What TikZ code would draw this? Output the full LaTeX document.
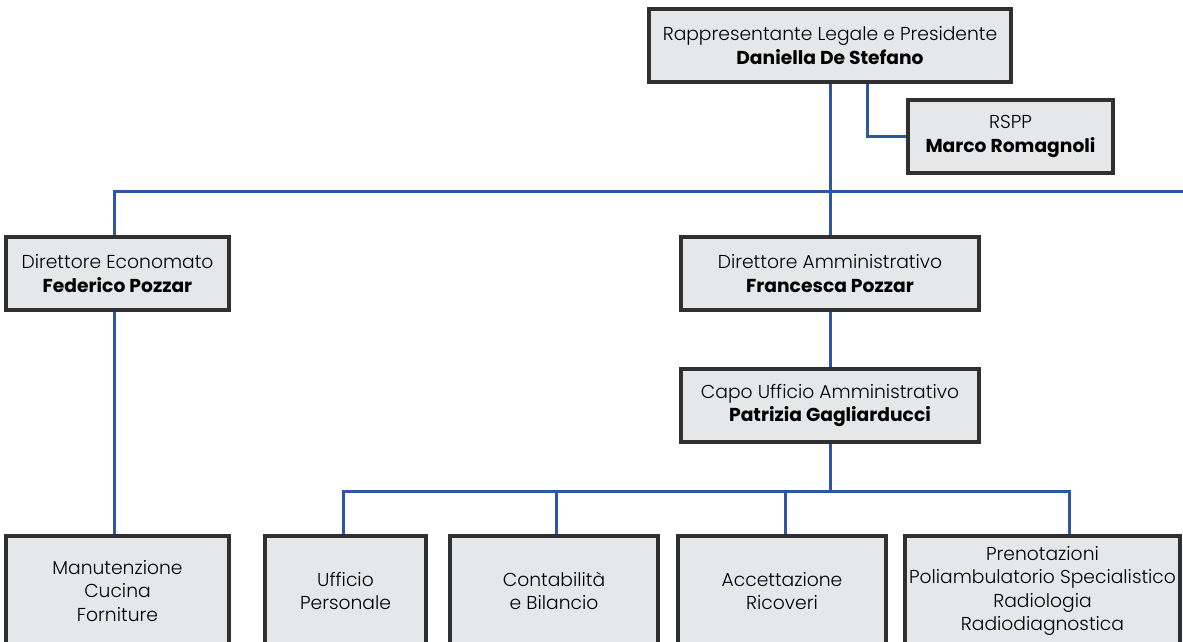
\documentclass[tikz,border=0pt]{standalone}
\usepackage{fontspec}
\setmainfont{Poppins}[UprightFont=* Light, BoldFont=* Bold]
\usetikzlibrary{backgrounds}
\definecolor{boxfill}{HTML}{E6E7E8}
\definecolor{boxline}{HTML}{303030}
\definecolor{conn}{HTML}{2F56A3}
\begin{document}
\begin{tikzpicture}[x=1pt,y=-1pt,
  orgbox/.style={draw=boxline, line width=3.3pt, fill=boxfill, align=center,
    inner sep=0pt, font=\fontsize{18.7}{23.5}\selectfont},
  link/.style={draw=conn, line width=3pt}]
\useasboundingbox (0,0) rectangle (1183,642);
\clip (0,0) rectangle (1183,642);
\node[orgbox, minimum width=362pt, minimum height=73pt] (top) at (830,45.5)
  {Rappresentante Legale e Presidente\\\textbf{Daniella De Stefano}};
\node[orgbox, minimum width=205pt, minimum height=73pt] (rspp) at (1010.5,136.5)
  {RSPP\\\textbf{Marco Romagnoli}};
\node[orgbox, minimum width=223pt, minimum height=73pt] (econ) at (117.5,273.5)
  {Direttore Economato\\\textbf{Federico Pozzar}};
\node[orgbox, minimum width=298pt, minimum height=73pt] (dam) at (830,273.5)
  {Direttore Amministrativo\\\textbf{Francesca Pozzar}};
\node[orgbox, minimum width=298pt, minimum height=73pt] (capo) at (830,405.5)
  {Capo Ufficio Amministrativo\\\textbf{Patrizia Gagliarducci}};
\node[orgbox, minimum width=223pt, minimum height=110pt] (manut) at (117.5,591)
  {Manutenzione\\Cucina\\Forniture};
\node[orgbox, minimum width=161pt, minimum height=110pt] (uff) at (345.5,591)
  {Ufficio\\Personale};
\node[orgbox, minimum width=208pt, minimum height=110pt] (cont) at (554,591)
  {Contabilità\\e Bilancio};
\node[orgbox, minimum width=208pt, minimum height=110pt] (acc) at (782,591)
  {Accettazione\\Ricoveri};
\node[orgbox, minimum width=275pt, minimum height=110pt] (pren) at (1042.5,591)
  {Prenotazioni\\Poliambulatorio Specialistico\\Radiologia\\Radiodiagnostica};
\coordinate (rightend) at (1183,191);
\coordinate (bus) at (830,491);
\begin{scope}[on background layer]
\draw[link] (top.south) -- (dam.north);
\draw[link] ([xshift=37pt]top.south) |- (rspp.west);
\draw[link] ([xshift=-3.5pt]econ.north) |- (rightend);
\draw[link] ([xshift=-3.5pt]econ.south) -- ([xshift=-3.5pt]manut.north);
\draw[link] (dam.south) -- (capo.north);
\draw[link] (capo.south) -- (bus);
\draw[link] ([xshift=-2.5pt]uff.north) |- ([xshift=26.5pt]pren.north |- bus) -- ([xshift=26.5pt]pren.north);
\draw[link] ([xshift=2pt]cont.north) -- ([xshift=2pt]cont.north |- bus);
\draw[link] ([xshift=3pt]acc.north) -- ([xshift=3pt]acc.north |- bus);
\end{scope}
\end{tikzpicture}
\end{document}
